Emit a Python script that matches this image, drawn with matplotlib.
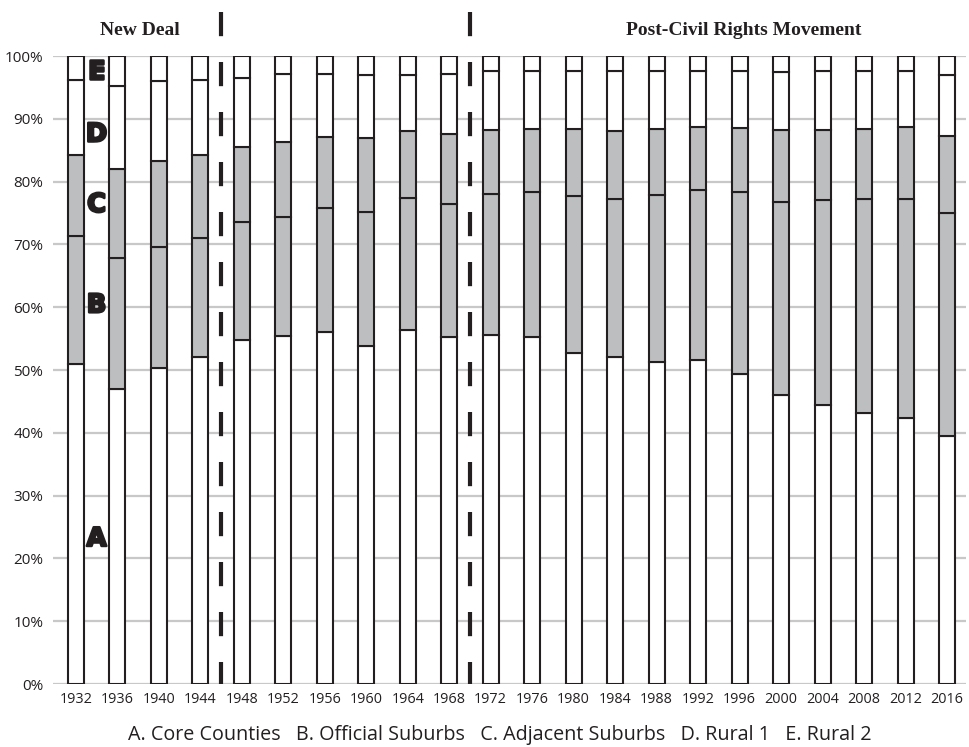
import numpy as np
import matplotlib
matplotlib.use('Agg')
import matplotlib.pyplot as plt
import matplotlib.patheffects as pe

# Share of vote by county type, per election year (percent)
years = [1932, 1936, 1940, 1944, 1948, 1952, 1956, 1960, 1964, 1968, 1972,
         1976, 1980, 1984, 1988, 1992, 1996, 2000, 2004, 2008, 2012, 2016]
core = [51.0, 47.0, 50.3, 52.1, 54.8, 55.4, 56.0, 53.8, 56.3, 55.3, 55.5,
        55.3, 52.7, 52.1, 51.2, 51.6, 49.3, 46.0, 44.5, 43.2, 42.4, 39.5]
official_sub = [20.3, 20.8, 19.3, 19.0, 18.8, 19.0, 19.8, 21.3, 21.1, 21.2, 22.6,
                23.0, 25.0, 25.2, 26.7, 27.0, 29.0, 30.8, 32.5, 34.1, 34.9, 35.5]
adjacent_sub = [13.0, 14.2, 13.7, 13.2, 11.9, 11.9, 11.3, 11.9, 10.6, 11.1, 10.2,
                10.1, 10.7, 10.8, 10.5, 10.1, 10.3, 11.4, 11.2, 11.1, 11.4, 12.3]
rural1 = [11.9, 13.3, 12.7, 11.9, 11.0, 10.8, 10.0, 10.0, 9.0, 9.5, 9.3,
          9.2, 9.2, 9.5, 9.2, 8.9, 9.0, 9.2, 9.4, 9.2, 8.9, 9.7]
rural2 = [3.8, 4.7, 4.0, 3.8, 3.5, 2.9, 2.9, 3.0, 3.0, 2.9, 2.4,
          2.4, 2.4, 2.4, 2.4, 2.4, 2.4, 2.6, 2.4, 2.4, 2.4, 3.0]

series = [core, official_sub, adjacent_sub, rural1, rural2]
fills = ['white', '#bcbec0', '#bcbec0', 'white', 'white']
letters = ['A', 'B', 'C', 'D', 'E']
letter_y = [23.1, 60.3, 76.3, 87.5, 97.5]
legend_text = ('A. Core Counties   B. Official Suburbs   C. Adjacent Suburbs   '
               'D. Rural 1   E. Rural 2')

edge = '#231f20'
sans = ['Open Sans', 'DejaVu Sans']

fig = plt.figure(figsize=(9.69, 7.47), dpi=100)
ax = fig.add_axes([0.0547, 0.0843, 0.9423, 0.8407])

x = np.arange(len(years))
bottom = np.zeros(len(years))
for vals, col in zip(series, fills):
    ax.bar(x, vals, width=0.385, bottom=bottom, color=col, edgecolor=edge,
           linewidth=1.5, zorder=3)
    bottom += np.array(vals)

ax.set_xlim(-0.55, len(years) - 0.54)
ax.set_ylim(0, 100)
ax.set_yticks(np.arange(0, 101, 10))
ax.set_yticklabels([f'{v}%' for v in range(0, 101, 10)], family=sans, fontsize=11,
                   color='#231f20')
ax.set_xticks(x)
ax.set_xticklabels([str(y) for y in years], family=sans, fontsize=10.4,
                   color='#231f20')
ax.tick_params(length=0)
ax.tick_params(axis='y', pad=7)
ax.tick_params(axis='x', pad=6)
ax.yaxis.grid(True, color='#c8c8c8', linewidth=1.6, zorder=0)
ax.set_axisbelow(True)
for s in ax.spines.values():
    s.set_visible(False)

# era dividers
for xd in [3.5, 9.5]:
    ax.plot([xd, xd], [107, 0], color=edge, linewidth=3, dashes=(5.8, 6.2),
            clip_on=False, zorder=4)

ax.text(1.54, 104.0, 'New Deal', ha='center', va='center', fontsize=14,
        fontweight='bold', family='Liberation Serif', color=edge, clip_on=False)
ax.text(16.1, 104.0, 'Post-Civil Rights Movement', ha='center', va='center',
        fontsize=14, fontweight='bold', family='Liberation Serif', color=edge,
        clip_on=False)

for lab, ly in zip(letters, letter_y):
    ax.text(0.5, ly, lab, ha='center', va='center', fontsize=18.5,
            fontweight='bold', family='DejaVu Sans', color=edge, zorder=5,
            path_effects=[pe.withStroke(linewidth=1.8, foreground=edge)])

fig.text(0.516, 0.016, legend_text, ha='center', va='center', fontsize=14.2,
         family=sans, color=edge)

fig.savefig('out.png', dpi=100)
